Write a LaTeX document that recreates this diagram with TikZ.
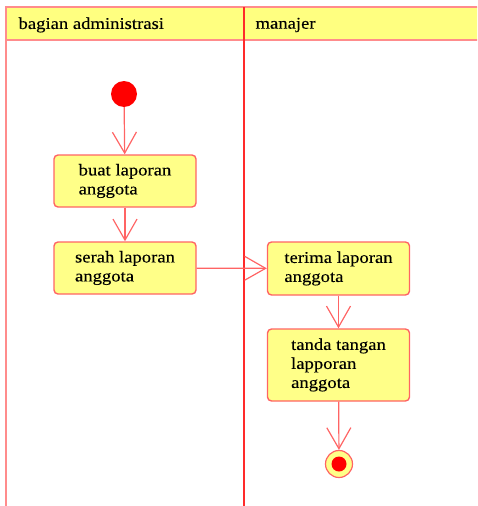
\documentclass[tikz,border=0pt]{standalone}
\usepackage{fontspec}
\setmainfont[FakeStretch=1.13,FakeBold=0.2]{Liberation Serif}
\usetikzlibrary{arrows.meta}
\definecolor{laneyellow}{HTML}{FFFF80}
\definecolor{boxyellow}{HTML}{FFFF88}
\definecolor{edgered}{HTML}{FF6464}
\definecolor{lanered}{HTML}{FF2A2A}
\definecolor{framepink}{HTML}{FF8C8C}
\begin{document}
\begin{tikzpicture}[x=1pt,y=-1pt,
  action/.style={draw=edgered,fill=boxyellow,rounded corners=4pt,line width=1.4pt,
    minimum width=142pt,align=left,font=\fontsize{16.5}{19}\selectfont},
  flow/.style={draw=edgered,line width=1.2pt,-{Straight Barb[length=21pt,width=24pt]}},
  lanehead/.style={anchor=west,font=\fontsize{16.5}{19}\selectfont}]
  \useasboundingbox (0,0) rectangle (477,506);
  \clip (0,0) rectangle (477,506);
  % swimlanes
  \fill[laneyellow] (6,7) rectangle (490,40);
  \draw[framepink,line width=1.3pt] (6,520) -- (6,7) -- (490,7);
  \draw[framepink,line width=1.3pt] (6,40) -- (490,40);
  \draw[lanered,line width=2pt] (244,7) -- (244,520);
  \node[lanehead] (hdrAdmin) at (15,25) {bagian administrasi};
  \node[lanehead] (hdrManajer) at (252,25) {manajer};
  % activities
  \node[circle,fill=red,inner sep=0,minimum size=26pt] (start) at (124,94) {};
  \node[action,minimum height=52pt] (buat) at (125,181) {buat laporan\\anggota};
  \node[action,minimum height=52pt] (serah) at (125,268) {serah laporan\\anggota};
  \node[action,minimum height=53pt] (terima) at (338.5,268.5) {terima laporan\\anggota};
  \node[action,minimum height=72pt] (tanda) at (338.5,365) {tanda tangan\\lapporan\\anggota};
  \node[circle,draw=edgered,fill=boxyellow,line width=1.2pt,inner sep=0,minimum size=27pt] (final) at (339,464) {};
  \fill[red] (final.center) circle (7.5);
  % transitions
  \path[flow] (start) edge (buat);
  \path[flow] (buat) edge (serah);
  \path[flow] (serah) edge (terima);
  \path[flow] (terima) edge (tanda);
  \path[flow] (tanda) edge (final);
\end{tikzpicture}
\end{document}
